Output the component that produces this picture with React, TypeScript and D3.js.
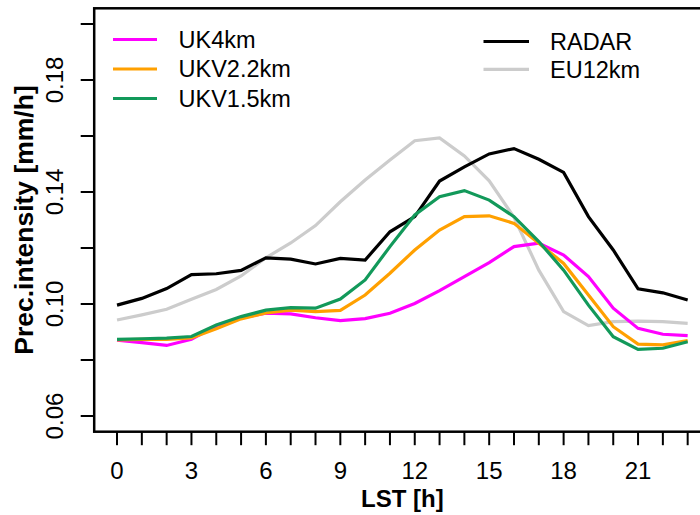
import React from "react";
import * as d3 from "d3";

// Hours of the day (local solar time)
const hours = d3.range(0, 24);

// Mean precipitation intensity [mm/h] per hour
const radar = [0.0996, 0.102, 0.1055, 0.1105, 0.1108, 0.112, 0.1165, 0.116, 0.1143, 0.1163, 0.1157, 0.1258, 0.1312, 0.1439, 0.149, 0.1536, 0.1555, 0.1517, 0.147, 0.1312, 0.1193, 0.1054, 0.104, 0.1014];
const eu12km = [0.0943, 0.0961, 0.0981, 0.1017, 0.1052, 0.11, 0.1165, 0.1218, 0.128, 0.1365, 0.1443, 0.1514, 0.1583, 0.1593, 0.1529, 0.144, 0.131, 0.1121, 0.0973, 0.0923, 0.0937, 0.0939, 0.0937, 0.0931];
const uk4km = [0.0871, 0.0862, 0.0852, 0.0874, 0.0922, 0.0951, 0.0967, 0.0965, 0.0951, 0.0941, 0.0948, 0.0967, 0.1002, 0.1048, 0.1098, 0.1148, 0.1205, 0.1217, 0.1175, 0.1098, 0.0985, 0.0913, 0.0892, 0.0887];
const ukv22km = [0.0872, 0.0874, 0.0874, 0.0879, 0.0912, 0.0947, 0.0968, 0.0978, 0.0973, 0.0977, 0.1032, 0.111, 0.1193, 0.1264, 0.1312, 0.1315, 0.1288, 0.1217, 0.1145, 0.1032, 0.0919, 0.0857, 0.0854, 0.0869];
const ukv15km = [0.0874, 0.0876, 0.0878, 0.0884, 0.0925, 0.0955, 0.0978, 0.0987, 0.0985, 0.1018, 0.1086, 0.1205, 0.1318, 0.1383, 0.1405, 0.1371, 0.1312, 0.1223, 0.1121, 0.0996, 0.0883, 0.0838, 0.0842, 0.0865];

const xTickLabels = [0, 3, 6, 9, 12, 15, 18, 21];
const yTicks = [0.06, 0.08, 0.1, 0.12, 0.14, 0.16, 0.18, 0.2];
const yTickLabels = [0.06, 0.1, 0.14, 0.18];

const seriesNames = ["UK4km", "UKV2.2km", "UKV1.5km", "RADAR", "EU12km"];
const seriesColors = ["#ff00ff", "#ffa000", "#12995a", "#000000", "#cccccc"];

const FONT = "'Liberation Sans', Arial, Helvetica, sans-serif";

export default function App() {
  const W = 700;
  const H = 515;
  const left = 94.2;
  const right = 710.5;
  const top = 8.3;
  const bottom = 431.7;

  // R-style 4% padding on both axes
  const x = d3.scaleLinear().domain([-0.92, 23.92]).range([left, right]);
  const y = d3.scaleLinear().domain([0.0544, 0.2056]).range([bottom, top]);

  const line = d3
    .line<number>()
    .x((_, i) => x(hours[i]))
    .y((d) => y(d));

  const series = [uk4km, ukv22km, ukv15km, radar, eu12km];
  // draw order: EU12km, RADAR, then models
  const drawOrder = [4, 3, 0, 1, 2];

  const legendLeft = [0, 1, 2];
  const legendRight = [3, 4];

  return (
    <svg width={W} height={H} style={{ position: "absolute", left: 0, top: 0, background: "#fff" }}>
      <rect x={0} y={0} width={W} height={H} fill="#fff" />
      {drawOrder.map((k) => (
        <path
          key={seriesNames[k]}
          d={line(series[k]) || ""}
          fill="none"
          stroke={seriesColors[k]}
          strokeWidth={3.2}
          strokeLinejoin="miter"
        />
      ))}

      {/* plot frame */}
      <rect x={left} y={top} width={right - left} height={bottom - top} fill="none" stroke="#000" strokeWidth={2.5} />

      {/* x axis ticks */}
      {hours.map((h) => (
        <line key={"xt" + h} x1={x(h)} x2={x(h)} y1={bottom} y2={bottom + 13.5} stroke="#000" strokeWidth={2} />
      ))}
      {xTickLabels.map((h) => (
        <text key={"xl" + h} x={x(h)} y={478.5} textAnchor="middle" fontFamily={FONT} fontSize={24} fill="#000">
          {h}
        </text>
      ))}

      {/* y axis ticks */}
      {yTicks.map((v) => (
        <line key={"yt" + v} x1={left - 13.5} x2={left} y1={y(v)} y2={y(v)} stroke="#000" strokeWidth={2} />
      ))}
      {yTickLabels.map((v) => (
        <text
          key={"yl" + v}
          transform={`translate(63.3,${y(v)}) rotate(-90)`}
          textAnchor="middle"
          fontFamily={FONT}
          fontSize={24}
          fill="#000"
        >
          {d3.format(".2f")(v)}
        </text>
      ))}

      {/* axis titles */}
      <text x={(left + right) / 2} y={507} textAnchor="middle" fontFamily={FONT} fontSize={24} fontWeight="bold">
        LST [h]
      </text>
      <text
        transform={`translate(33,${(top + bottom) / 2}) rotate(-90)`}
        textAnchor="middle"
        fontFamily={FONT}
        fontSize={26.5}
        fontWeight="bold"
      >
        Prec.intensity [mm/h]
      </text>

      {/* legends */}
      {legendLeft.map((k, i) => {
        const ly = 39.5 + i * 29.5;
        return (
          <g key={"lg" + k}>
            <line x1={113} x2={157} y1={ly} y2={ly} stroke={seriesColors[k]} strokeWidth={3.2} />
            <text x={178.5} y={ly + 8.3} fontFamily={FONT} fontSize={23.5}>
              {seriesNames[k]}
            </text>
          </g>
        );
      })}
      {legendRight.map((k, i) => {
        const ly = 41.5 + i * 27.8;
        return (
          <g key={"lg" + k}>
            <line x1={483.5} x2={529} y1={ly} y2={ly} stroke={seriesColors[k]} strokeWidth={3.2} />
            <text x={550} y={ly + 8.3} fontFamily={FONT} fontSize={23.5}>
              {seriesNames[k]}
            </text>
          </g>
        );
      })}
    </svg>
  );
}
